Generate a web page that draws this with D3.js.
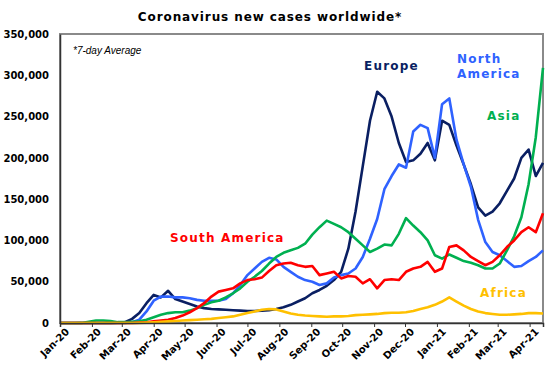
<!DOCTYPE html>
<html>
<head>
<meta charset="utf-8">
<script src="https://cdn.jsdelivr.net/npm/d3@7"></script>
<style>
  body { margin: 0; background: #fff; }
  svg text { font-family: "DejaVu Sans", Verdana, sans-serif; }
</style>
</head>
<body>
<div id="chart"></div>
<script>
// Weekly samples, 1 Jan 2020 to 14 Apr 2021, thousands of new cases (7-day average)
const startDate = new Date(2020, 0, 1);
const endDate = new Date(2021, 3, 14);

const europe = [
  0, 0, 0, 0, 0, 0, 0, 0, 0.3, 1, 5, 12, 24, 34, 31, 39, 29, 26, 23, 20,
  18, 17, 16.5, 16, 15.5, 15, 14.5, 14.5, 15, 15.5, 17, 19, 22, 26, 30, 36, 40, 45, 52, 62,
  90, 135, 190, 245, 280, 272, 250, 218, 195, 197, 205, 218, 197, 245, 240, 215, 192, 168, 140, 130,
  135, 145, 160, 175, 200, 210, 178, 194
];
const northAmerica = [
  0, 0, 0, 0, 0, 0, 0, 0, 0, 0.2, 1, 4, 14, 27, 32, 32, 31, 31, 30, 28,
  27, 27, 27, 29, 36, 46, 58, 66, 74, 79, 77, 68, 62, 56, 52, 50, 46, 48, 55, 58,
  60, 66, 80, 102, 126, 162, 178, 192, 188, 232, 240, 236, 200, 265, 272, 222, 192, 165, 125, 98,
  86, 82, 75, 68, 69, 75, 80, 88
];
const asia = [
  0, 0, 0, 0.1, 1.5, 3, 3, 2.5, 1, 1, 1.5, 2, 4, 7, 10, 12, 13, 13, 15, 18,
  22, 25, 27, 31, 36, 42, 50, 56, 63, 72, 80, 85, 88, 91, 96, 107, 116, 124, 120, 116,
  110, 102, 94, 86, 90, 95, 94, 108, 127, 118, 110, 100, 82, 78, 83, 79, 75, 73, 70, 66,
  66, 72, 88, 105, 128, 168, 225, 309
];
const southAmerica = [
  0, 0, 0, 0, 0, 0, 0, 0, 0, 0, 0, 0.5, 1, 2, 3, 4, 6, 9, 13, 18,
  24, 32, 38, 40, 42, 48, 52, 53, 55, 63, 70, 72, 73, 70, 68, 69, 58, 60, 62, 54,
  57, 56, 48, 53, 42, 52, 53, 52, 62, 66, 68, 74, 62, 66, 92, 94, 88, 80, 75, 70,
  74, 82, 92, 100, 110, 116, 110, 133
];
const africa = [
  0, 0, 0, 0, 0, 0, 0, 0, 0, 0, 0, 0.2, 0.5, 1, 1.5, 2, 2.5, 3, 3.5, 4,
  4.5, 5, 6, 7, 8, 10, 12, 14, 16, 17, 16.5, 14, 11.5, 10, 9, 8.5, 8, 7.5, 8, 8,
  8.5, 9.5, 10, 10.5, 11, 12, 12.5, 12.5, 13, 14.5, 17, 19, 22, 26, 31, 26, 21, 17, 14, 12,
  11, 10, 10, 10.5, 11, 12, 12, 11.5
];

const yTicks = [0, 50000, 100000, 150000, 200000, 250000, 300000, 350000];

const series = [
  { name: "Europe", values: europe, color: "#0a1f62" },
  { name: "North America", values: northAmerica, color: "#2f62ff" },
  { name: "Asia", values: asia, color: "#00b050" },
  { name: "South America", values: southAmerica, color: "#ff0000" },
  { name: "Africa", values: africa, color: "#ffc000" }
];

const weeks = d3.range(europe.length).map(i => d3.timeDay.offset(startDate, i * 7));

const W = 560, H = 369;
const plot = { left: 60, right: 543, top: 34, bottom: 323 };

const svg = d3.select("#chart").append("svg")
  .attr("width", W)
  .attr("height", H);

const x = d3.scaleTime()
  .domain([startDate, endDate])
  .range([plot.left, plot.right]);

const y = d3.scaleLinear()
  .domain([0, 350000])
  .range([plot.bottom, plot.top]);

// Frame
svg.append("rect")
  .attr("x", plot.left)
  .attr("y", plot.top)
  .attr("width", plot.right - plot.left)
  .attr("height", plot.bottom - plot.top)
  .attr("fill", "none")
  .attr("stroke", "#8a8a8a")
  .attr("stroke-width", 2);

// Lines
const line = d3.line()
  .x((d, i) => x(weeks[i]))
  .y(d => y(d * 1000));

series.forEach(s => {
  svg.append("path")
    .datum(s.values)
    .attr("fill", "none")
    .attr("stroke", s.color)
    .attr("stroke-width", 2.6)
    .attr("stroke-linejoin", "round")
    .attr("d", line);
});

// Axes
const xAxis = svg.append("g")
  .attr("transform", `translate(0,${plot.bottom})`)
  .call(d3.axisBottom(x)
    .ticks(d3.timeMonth.every(1))
    .tickSize(4)
    .tickFormat(d3.timeFormat("%b-%y")));
xAxis.select(".domain").attr("stroke", "#333").attr("stroke-width", 1.5);
xAxis.selectAll(".tick line").attr("stroke", "#333");
xAxis.selectAll(".tick text")
  .attr("font-family", "DejaVu Sans, sans-serif")
  .attr("font-size", 10)
  .attr("font-weight", "bold")
  .attr("fill", "#000")
  .attr("text-anchor", "end")
  .attr("transform", "translate(4,4) rotate(-45)")
  .attr("dy", "0.35em")
  .attr("y", 4)
  .attr("x", 0);

const yAxis = svg.append("g")
  .attr("transform", `translate(${plot.left},0)`)
  .call(d3.axisLeft(y)
    .tickValues(yTicks)
    .tickSize(0)
    .tickPadding(11)
    .tickFormat(d3.format(",")));
yAxis.select(".domain").attr("stroke", "#333").attr("stroke-width", 1.5);
yAxis.selectAll(".tick text")
  .attr("font-family", "DejaVu Sans, sans-serif")
  .attr("font-size", 10)
  .attr("font-weight", "bold")
  .attr("fill", "#000");

// Title and notes
svg.append("text")
  .attr("x", 270)
  .attr("y", 21)
  .attr("text-anchor", "middle")
  .attr("font-size", 12)
  .attr("font-weight", "bold")
  .attr("letter-spacing", 0.9)
  .text("Coronavirus new cases worldwide*");

svg.append("text")
  .attr("x", 73)
  .attr("y", 54)
  .style("font-family", "'Liberation Sans', Arial, sans-serif")
  .attr("font-size", 10)
  .attr("font-style", "italic")
  .text("*7-day Average");

// Series labels
const labels = [
  { lines: ["Europe"], x: 364, y: 70, color: "#0a1f62" },
  { lines: ["North", "America"], x: 457, y: 63, color: "#2f62ff" },
  { lines: ["Asia"], x: 487, y: 120, color: "#00b050" },
  { lines: ["South America"], x: 170, y: 242, color: "#ff0000" },
  { lines: ["Africa"], x: 480, y: 297, color: "#ffc000" }
];

labels.forEach(l => {
  const t = svg.append("text")
    .attr("x", l.x)
    .attr("y", l.y)
    .attr("font-size", 12)
    .attr("font-weight", "bold")
    .attr("letter-spacing", 1.2)
    .attr("fill", l.color);
  l.lines.forEach((s, i) => {
    t.append("tspan")
      .attr("x", l.x)
      .attr("dy", i === 0 ? 0 : 15)
      .text(s);
  });
});
</script>
</body>
</html>
